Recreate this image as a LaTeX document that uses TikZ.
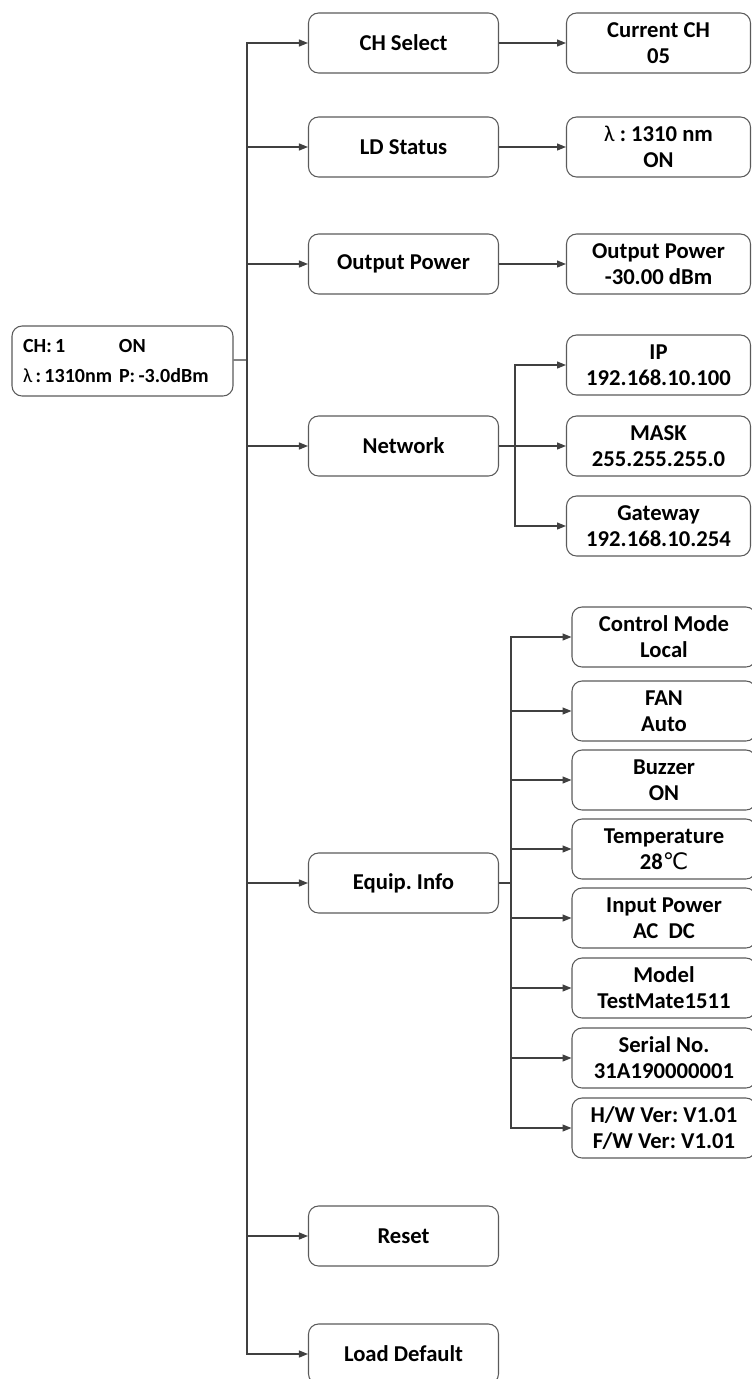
\documentclass[tikz,border=0pt]{standalone}
\usepackage{fontspec}
\setmainfont{Carlito}
\newfontfamily\symbole{DejaVu Sans}
\usetikzlibrary{arrows.meta}
\definecolor{trait}{HTML}{404040}
\definecolor{bord}{HTML}{5A5A5A}
\frenchspacing
\begin{document}
\begin{tikzpicture}[x=0.02cm,y=-0.02cm]
		\tikzstyle{lien}=[line width=0.7pt,draw=trait]
		\tikzstyle{fleche}=[lien,-{Triangle[length=1.8mm,width=1.4mm]}]
		\tikzstyle{cadre}=[draw=bord,line width=0.6pt,rounded corners=0.2cm,minimum width=3.8cm,minimum height=1.2cm,inner sep=0pt,align=center,font=\bfseries\fontsize{12.9}{14.8}\selectfont]
		\tikzstyle{feuille}=[cadre,minimum width=3.68cm]
		\tikzstyle{racine}=[draw=bord,line width=0.6pt,rounded corners=0.2cm,minimum height=1.4cm,text width=3.98cm,inner xsep=0.22cm,align=left,font=\bfseries\fontsize{11.4}{17.6}\selectfont]
		\def\ColonneA{122.5}
		\def\ColonneB{403.5}
		\def\ColonneC{658.5}
		\def\ColonneD{664}
		\def\Tronc{247}
		\def\BrancheC{515}
		\def\BrancheD{511}
		\useasboundingbox (0,0) rectangle (751,1379);
		\node[racine] (R) at (\ColonneA,361) {\makebox[1.92cm][l]{CH:\,1}ON\\\makebox[1.92cm][l]{{\mdseries λ}\,:\,1310nm}P:\,-3.0dBm};
		\coordinate (T) at (\Tronc,360);
		\node[cadre] (Ra) at (\ColonneB,43) {CH Select};
		\node[feuille] (Raa) at (\ColonneC,43) {Current CH\\05};
		\node[cadre] (Rb) at (\ColonneB,147) {LD Status};
		\node[feuille] (Rba) at (\ColonneC,147) {{\mdseries λ} : 1310 nm\\ON};
		\node[cadre] (Rc) at (\ColonneB,264) {Output Power};
		\node[feuille] (Rca) at (\ColonneC,264) {Output Power\\-30.00 dBm};
		\node[cadre] (Rd) at (\ColonneB,446) {Network};
		\coordinate (Rd0) at (\BrancheC,446);
		\node[feuille] (Rda) at (\ColonneC,365) {IP\\192.168.10.100};
		\node[feuille] (Rdb) at (\ColonneC,446) {MASK\\255.255.255.0};
		\node[feuille] (Rdc) at (\ColonneC,526) {Gateway\\192.168.10.254};
		\node[cadre] (Re) at (\ColonneB,883) {Equip. Info};
		\coordinate (Re0) at (\BrancheD,883);
		\node[feuille] (Rea) at (\ColonneD,637) {Control Mode\\Local};
		\node[feuille] (Reb) at (\ColonneD,711) {FAN\\Auto};
		\node[feuille] (Rec) at (\ColonneD,780) {Buzzer\\ON};
		\node[feuille] (Red) at (\ColonneD,849) {Temperature\\28{\mdseries\symbole ℃}};
		\node[feuille] (Ree) at (\ColonneD,918) {Input Power\\AC\ \ DC};
		\node[feuille] (Ref) at (\ColonneD,988) {Model\\TestMate1511};
		\node[feuille] (Reg) at (\ColonneD,1058) {Serial No.\\31A190000001};
		\node[feuille] (Reh) at (\ColonneD,1128) {H/W Ver: V1.01\\F/W Ver: V1.01};
		\node[cadre] (Rf) at (\ColonneB,1236) {Reset};
		\node[cadre] (Rg) at (\ColonneB,1354) {Load Default};
		\draw[lien] (R)--(T);
		\draw[fleche] (T)|-(Ra);
		\draw[fleche] (T)|-(Rb);
		\draw[fleche] (T)|-(Rc);
		\draw[fleche] (T)|-(Rd);
		\draw[fleche] (T)|-(Re);
		\draw[fleche] (T)|-(Rf);
		\draw[fleche] (T)|-(Rg);
		\draw[fleche] (Ra)--(Raa);
		\draw[fleche] (Rb)--(Rba);
		\draw[fleche] (Rc)--(Rca);
		\draw[lien] (Rd)--(Rd0);
		\draw[fleche] (Rd0)|-(Rda);
		\draw[fleche] (Rd0)--(Rdb);
		\draw[fleche] (Rd0)|-(Rdc);
		\draw[lien] (Re)--(Re0);
		\draw[fleche] (Re0)|-(Rea);
		\draw[fleche] (Re0)|-(Reb);
		\draw[fleche] (Re0)|-(Rec);
		\draw[fleche] (Re0)|-(Red);
		\draw[fleche] (Re0)|-(Ree);
		\draw[fleche] (Re0)|-(Ref);
		\draw[fleche] (Re0)|-(Reg);
		\draw[fleche] (Re0)|-(Reh);
	\end{tikzpicture}
\end{document}
